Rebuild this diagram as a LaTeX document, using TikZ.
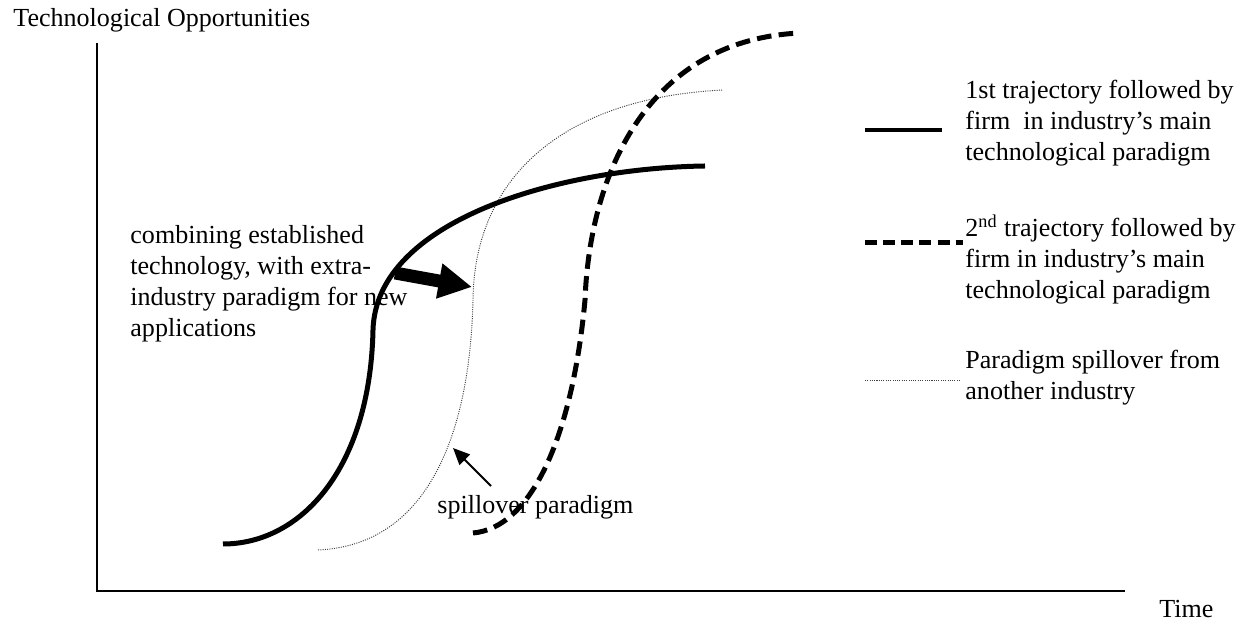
\documentclass[tikz,border=0pt]{standalone}
\usepackage{fontspec}
\setmainfont{Liberation Serif}
\usetikzlibrary{arrows.meta}
\begin{document}
\begin{tikzpicture}[x=0.48pt,y=-0.48pt,
  lbl/.style={inner sep=0pt, align=left, font=\fontsize{12.5}{14.9}\selectfont},
  axis/.style={line width=1pt},
  firsttraj/.style={line width=2.4pt},
  secondtraj/.style={line width=2.4pt, dash pattern=on 7pt off 3.5pt},
  spill/.style={line width=0.45pt, black!75, dash pattern=on 0.5pt off 0.6pt},
  bigarrow/.style={line width=6.2pt, -{Triangle[length=16pt,width=16pt]}},
  smallarrow/.style={line width=1pt, -{Triangle[length=8pt,width=7pt]}},
]
\useasboundingbox (0,0) rectangle (1252,626);

% axes
\coordinate (ytop) at (97,43);
\coordinate (origin) at (97,591);
\coordinate (xend) at (1125,591);
\draw[axis] (ytop) -- (origin) -- (xend);
\node[lbl, anchor=base west] (ylabel) at (13,27) {Technological Opportunities};
\node[lbl, anchor=base west] (xlabel) at (1159,618) {Time};

% spillover paradigm (dotted)
\draw[spill] (318,550) .. controls (430,545) and (470,430) .. (473,300)
             .. controls (474,180) and (560,98) .. (723,90);

% first trajectory (solid)
\draw[firsttraj] (223,544) .. controls (300,544) and (370,470) .. (373,330)
                 .. controls (376,220) and (560,168) .. (705,166);

% second trajectory (dashed)
\draw[secondtraj] (473,533) .. controls (530,528) and (572,440) .. (585,300)
                  .. controls (590,170) and (650,40) .. (800,33);

% annotations (multi-line nodes: base anchor sits on the last line)
\node[lbl, anchor=base west] (combine) at (130,337)
  {combining established\\technology, with extra-\\industry paradigm for new\\applications};
\coordinate (pushfrom) at (395,273);
\coordinate (pushto) at (472,287);
\draw[bigarrow] (pushfrom) -- (pushto);

\node[lbl, anchor=base west] (spilltext) at (437,514) {spillover paradigm};
\coordinate (spillfrom) at (491,486);
\coordinate (spillto) at (453,448);
\draw[smallarrow] (spillfrom) -- (spillto);

% legend
\coordinate (l1a) at (865,130); \coordinate (l1b) at (942,130);
\draw[line width=2pt] (l1a) -- (l1b);
\node[lbl, anchor=base west] (leg1) at (965,161)
  {1st trajectory followed by\\firm\ \ in industry’s main\\technological paradigm};

\coordinate (l2a) at (865,243); \coordinate (l2b) at (963,243);
\draw[line width=2.4pt, dash pattern=on 5.8pt off 2.9pt] (l2a) -- (l2b);
\node[lbl, anchor=base west] (leg2) at (965,299)
  {2\textsuperscript{nd} trajectory followed by\\firm in industry’s main\\technological paradigm};

\coordinate (l3a) at (865,380); \coordinate (l3b) at (960,380);
\draw[spill] (l3a) -- (l3b);
\node[lbl, anchor=base west] (leg3) at (965,400)
  {Paradigm spillover from\\another industry};
\end{tikzpicture}
\end{document}
